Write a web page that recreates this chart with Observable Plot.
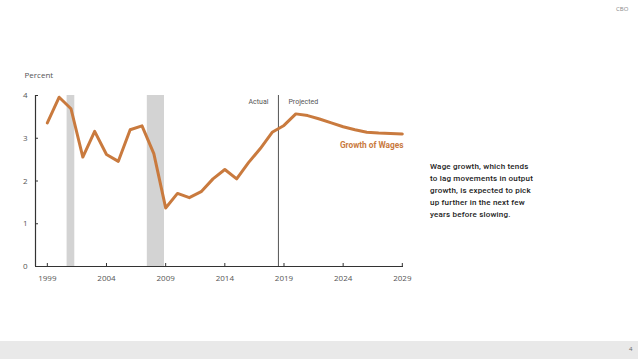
<!DOCTYPE html>
<html>
<head>
<meta charset="utf-8">
<script src="https://cdn.jsdelivr.net/npm/d3@7"></script>
<script src="https://cdn.jsdelivr.net/npm/@observablehq/plot@0.6"></script>
<style>
  html, body { margin: 0; padding: 0; background: #fff; }
  #wrap { position: relative; width: 638px; height: 359px; overflow: hidden; font-family: "Open Sans", "DejaVu Sans", sans-serif; }
  #chart { position: absolute; left: 0; top: 0; }
  .narrow { font-family: Roboto, "Liberation Sans", sans-serif; }
  #note { position: absolute; left: 430px; top: 161px; font-size: 8px; line-height: 12px; color: #222; font-weight: 500; letter-spacing: 0.2px; white-space: pre; }
  #cbo { position: absolute; left: 616px; top: 5px; font-size: 6px; color: #888; }
  #footer { position: absolute; left: 0; top: 341px; width: 638px; height: 18px; background: #e9e9e9; }
  #page { position: absolute; left: 629px; top: 345px; font-size: 6px; color: #666; }
</style>
</head>
<body>
<div id="wrap">
  <div id="chart"></div>
  <div id="cbo">CBO</div>
  <div id="note" class="narrow">Wage growth, which tends
to lag movements in output
growth, is expected to pick
up further in the next few
years before slowing.</div>
  <div id="footer"></div>
  <div id="page">4</div>
</div>
<script>
const years = [1999,2000,2001,2002,2003,2004,2005,2006,2007,2008,2009,2010,2011,2012,2013,2014,2015,2016,2017,2018,2019,2020,2021,2022,2023,2024,2025,2026,2027,2028,2029];
const wageGrowth = [3.36,3.96,3.69,2.56,3.16,2.62,2.46,3.20,3.29,2.64,1.37,1.71,1.61,1.75,2.05,2.27,2.05,2.43,2.76,3.14,3.30,3.57,3.53,3.45,3.36,3.27,3.20,3.14,3.12,3.11,3.10];
const recessions = [{start: 2000.67, end: 2001.32}, {start: 2007.45, end: 2008.9}];
const xTicks = [1999, 2004, 2009, 2014, 2019, 2024, 2029];
const yTicks = [0, 1, 2, 3, 4];
const projectionStart = 2018.53;
const seriesLabel = "Growth of Wages";

const data = years.map((y, i) => ({year: y, value: wageGrowth[i]}));
const orange = "#c97a3e";
const gray = "#555";
const narrow = "Roboto, 'Liberation Sans', sans-serif";

const chart = Plot.plot({
  width: 638,
  height: 359,
  marginLeft: 35,
  marginRight: 235,
  marginTop: 95,
  marginBottom: 93,
  style: {fontFamily: "'Open Sans', 'DejaVu Sans', sans-serif", background: "transparent"},
  x: {domain: [1998, 2029.1]},
  y: {domain: [0, 4]},
  marks: [
    Plot.rectX(recessions, {x1: "start", x2: "end", y1: 0, y2: 4, fill: "#d3d3d3"}),
    Plot.ruleX([projectionStart], {stroke: gray, strokeWidth: 1}),
    Plot.text(["Actual"], {x: projectionStart, frameAnchor: "top", dy: 4, dx: -10, textAnchor: "end", text: d => d, fill: gray, fontSize: 7, fontFamily: narrow}),
    Plot.text(["Projected"], {x: projectionStart, frameAnchor: "top", dy: 4, dx: 10, textAnchor: "start", text: d => d, fill: gray, fontSize: 7, fontFamily: narrow}),
    Plot.line(data, {x: "year", y: "value", stroke: orange, strokeWidth: 3, strokeLinejoin: "round", strokeLinecap: "round"}),
    Plot.text([seriesLabel], {x: 2029.1, y: 2.83, text: d => d, textAnchor: "end", fill: orange, fontSize: 8.3, fontWeight: "bold", fontFamily: narrow}),
    Plot.axisX({ticks: xTicks, tickFormat: d => String(d), tickSize: 0, tickPadding: 9, fontSize: 8, color: gray, label: null}),
    Plot.axisY({ticks: yTicks, tickFormat: d => String(d), tickSize: 0, tickPadding: 8, fontSize: 8, color: gray, label: null}),
    Plot.tickX(xTicks, {x: d => d, insetTop: 168, stroke: "#333"}),
    Plot.tickY(yTicks, {y: d => d, insetRight: 365, stroke: "#333"}),
    Plot.ruleY([0], {stroke: "#333", strokeWidth: 1.2}),
    Plot.ruleX([1998], {stroke: "#333", strokeWidth: 1.2}),
    Plot.text(["Percent"], {frameAnchor: "top-left", dx: -11, dy: -23, text: d => d, fill: gray, fontSize: 8, textAnchor: "start"})
  ]
});
document.getElementById("chart").appendChild(chart);
</script>
</body>
</html>
